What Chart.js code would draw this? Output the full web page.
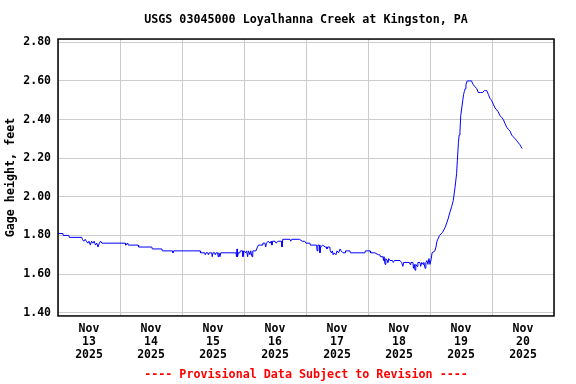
<!DOCTYPE html>
<html>
<head>
<meta charset="utf-8">
<script src="https://cdn.jsdelivr.net/npm/chart.js@4.4.1/dist/chart.umd.min.js"></script>
<style>
  html, body { margin: 0; padding: 0; background: #fff; }
  #wrap { width: 576px; height: 384px; }
</style>
</head>
<body>
<div id="wrap"><canvas id="myChart" width="576" height="384"></canvas></div>
<script>
// hours since Nov 13 00:00 and gage height (ft)
const hours = [
  0, 1.9, 2.0, 4.2, 4.4, 9.2, 9.4, 10.0, 10.5, 11.0, 11.5, 12.0, 12.5, 13.0, 13.5, 14.0, 14.5, 15.0, 15.5, 16.0, 16.5, 17.0,
  26.0, 26.2, 27.0, 27.2, 31.0, 31.2, 36.3, 36.5, 40.2, 40.4, 44.3, 44.5, 44.8, 55.0, 55.2, 56.8, 57.0, 57.3, 58.0, 58.2, 58.5,
  59.5, 59.7, 60.0, 60.7, 60.9, 61.2, 61.8, 62.0, 62.3, 62.7, 63.0, 68.9, 69.1, 69.3, 69.5, 69.8,
  70.4, 70.6, 71.4, 71.6, 71.9, 72.6, 73.0, 73.4, 73.7, 74.3, 74.6, 75.1, 75.4, 76.6, 77.2, 77.6, 79.0, 79.3, 80.1, 80.4, 80.7,
  81.3, 82.1, 82.5, 82.8, 83.1, 84.0, 84.4, 85.2, 86.5, 86.7, 87.0, 89.8, 90.1, 90.5, 93.5, 94.5, 95.5, 96.0,
  97.5, 97.7, 99.5, 100.1, 100.3, 100.6, 101.2, 101.4, 101.7, 102.5, 103.4, 104.0, 104.1, 104.4, 105.2, 105.4, 105.8, 106.2,
  106.5, 106.9, 107.6, 108.0, 108.6, 109.2, 109.6, 110.3, 111.1, 111.3, 113.0, 113.2, 118.8, 119.0, 120.8, 121.0, 122.7, 124.0,
  124.6, 124.8, 125.8, 126.0, 126.2, 126.6, 126.9, 127.4, 127.7, 128.0, 128.5, 129.5, 129.8, 130.2, 132.4, 133.0, 133.5, 133.8,
  134.3, 136.0, 136.3, 136.6, 137.4, 137.6, 137.9, 138.2, 138.5, 139.0, 139.3, 140.1, 140.4, 140.8, 141.3, 141.6, 142.1, 142.4,
  142.8, 143.2, 143.6, 144.0, 144.5, 144.8, 145.9, 146.3, 146.7, 147.7, 148.8, 149.8, 150.5, 151.1, 151.7, 152.4, 153.0, 153.7,
  154.3, 154.6, 155.0, 155.3, 155.6, 155.9, 156.3, 156.7, 157.0, 157.3, 157.6, 157.9, 158.4, 159.2, 160.1, 160.4, 160.8, 161.4,
  162.1, 162.7, 163.5, 164.4, 165.0, 165.5, 166.0, 166.6, 167.2, 167.8, 168.5, 169.2, 169.8, 170.4, 171.1, 171.8, 172.4, 173.0,
  173.7, 174.3, 175.0, 175.6, 176.3, 177.0, 177.6, 178.2, 178.8, 179.2, 179.7
];
const stage = [
  1.81, 1.81, 1.80, 1.80, 1.79, 1.79, 1.78, 1.77, 1.78, 1.77, 1.76, 1.77, 1.75, 1.77, 1.76, 1.77, 1.75, 1.76, 1.74, 1.76, 1.77, 1.76,
  1.76, 1.75, 1.76, 1.75, 1.75, 1.74, 1.74, 1.73, 1.73, 1.72, 1.72, 1.71, 1.72, 1.72, 1.71, 1.71, 1.70, 1.71, 1.71, 1.70, 1.71,
  1.71, 1.69, 1.71, 1.71, 1.70, 1.71, 1.71, 1.69, 1.71, 1.69, 1.71, 1.71, 1.69, 1.73, 1.69, 1.71,
  1.71, 1.72, 1.72, 1.69, 1.72, 1.71, 1.72, 1.69, 1.72, 1.70, 1.72, 1.69, 1.72, 1.72, 1.74, 1.75, 1.75, 1.76, 1.76, 1.74, 1.76,
  1.77, 1.76, 1.77, 1.75, 1.77, 1.77, 1.76, 1.77, 1.77, 1.74, 1.78, 1.78, 1.77, 1.78, 1.78, 1.77, 1.77, 1.76,
  1.76, 1.75, 1.75, 1.75, 1.72, 1.75, 1.75, 1.71, 1.74, 1.75, 1.74, 1.74, 1.73, 1.74, 1.74, 1.72, 1.71, 1.72,
  1.70, 1.71, 1.70, 1.72, 1.71, 1.73, 1.72, 1.71, 1.71, 1.72, 1.72, 1.71, 1.71, 1.72, 1.72, 1.71, 1.71, 1.70,
  1.70, 1.69, 1.69, 1.67, 1.69, 1.65, 1.68, 1.67, 1.66, 1.68, 1.67, 1.67, 1.66, 1.67, 1.67, 1.66, 1.64, 1.66,
  1.66, 1.66, 1.65, 1.66, 1.66, 1.63, 1.65, 1.62, 1.65, 1.64, 1.66, 1.66, 1.64, 1.66, 1.65, 1.66, 1.63, 1.66,
  1.67, 1.65, 1.68, 1.65, 1.68, 1.71, 1.72, 1.74, 1.77, 1.80, 1.815, 1.84, 1.865, 1.89, 1.92, 1.95, 1.98, 2.05,
  2.12, 2.19, 2.28, 2.32, 2.34, 2.42, 2.46, 2.50, 2.53, 2.545, 2.56, 2.58, 2.60, 2.60, 2.60, 2.59, 2.58, 2.57,
  2.56, 2.54, 2.54, 2.54, 2.55, 2.55, 2.55, 2.53, 2.51, 2.50, 2.48, 2.46, 2.45, 2.44, 2.42, 2.41, 2.40, 2.38,
  2.36, 2.35, 2.34, 2.32, 2.31, 2.30, 2.29, 2.28, 2.27, 2.26, 2.25
];
const dayLabels = ["13", "14", "15", "16", "17", "18", "19", "20"];
const monthLabel = "Nov";
const yearLabel = "2025";
const yTicks = [1.40, 1.60, 1.80, 2.00, 2.20, 2.40, 2.60, 2.80];

const mono = "'DejaVu Sans Mono', 'Liberation Mono', monospace";

// box round the plot area
const frame = {
  id: "frame",
  afterDraw(chart) {
    const a = chart.chartArea;
    const c = chart.ctx;
    c.save();
    c.strokeStyle = "#000";
    c.lineWidth = 1.5;
    c.strokeRect(a.left, a.top, a.right - a.left, a.bottom - a.top);
    c.restore();
  }
};

const ctx = document.getElementById("myChart");
const myChart = new Chart(ctx, {
  type: "line",
  data: {
    datasets: [{
      data: hours.map((h, i) => ({ x: h, y: stage[i] })),
      borderColor: "#0000ff",
      borderWidth: 1,
      pointRadius: 0,
      tension: 0,
      fill: false
    }]
  },
  options: {
    responsive: false,
    devicePixelRatio: 1,
    animation: false,
    layout: { padding: { right: 22 } },
    plugins: {
      legend: { display: false },
      tooltip: { enabled: false },
      title: {
        display: true,
        text: "USGS 03045000 Loyalhanna Creek at Kingston, PA",
        fullSize: false,
        color: "#000",
        font: { family: mono, size: 11.7, weight: "bold", lineHeight: 1.2 },
        padding: { top: 13, bottom: 12 }
      },
      subtitle: {
        display: true,
        position: "bottom",
        text: "---- Provisional Data Subject to Revision ----",
        fullSize: false,
        color: "#ff0000",
        font: { family: mono, size: 11.7, weight: "bold", lineHeight: 1.2 },
        padding: { top: 0, bottom: 2 }
      }
    },
    scales: {
      x: {
        type: "linear",
        min: 0,
        max: 192,
        afterFit: (s) => { s.height = 52; },
        afterBuildTicks: (s) => {
          const t = [];
          for (let v = 0; v <= 192; v += 12) t.push({ value: v });
          s.ticks = t;
        },
        border: { display: false },
        grid: {
          drawTicks: false,
          lineWidth: 1,
          color: (c) => (c.tick && c.tick.value % 24 === 0 ? "#cccccc" : "rgba(0,0,0,0)")
        },
        ticks: {
          autoSkip: false,
          maxRotation: 0,
          minRotation: 0,
          padding: 7,
          color: "#000",
          font: { family: mono, size: 11.5, weight: "bold", lineHeight: 1.1 },
          callback: (v) => (v % 24 === 12 ? [monthLabel, dayLabels[(v - 12) / 24], yearLabel] : "")
        }
      },
      y: {
        min: 1.383,
        max: 2.817,
        afterFit: (s) => { s.width = 58; },
        afterBuildTicks: (s) => { s.ticks = yTicks.map((v) => ({ value: v })); },
        border: { display: false },
        grid: { drawTicks: false, color: "#cccccc", lineWidth: 1 },
        ticks: {
          padding: 7,
          color: "#000",
          font: { family: mono, size: 11.5, weight: "bold" },
          callback: (v) => Number(v).toFixed(2)
        },
        title: {
          display: true,
          text: "Gage height, feet",
          color: "#000",
          font: { family: mono, size: 11.7, weight: "bold", lineHeight: 1.2 },
          padding: { top: 4, bottom: 0 }
        }
      }
    }
  },
  plugins: [frame]
});
</script>
</body>
</html>
